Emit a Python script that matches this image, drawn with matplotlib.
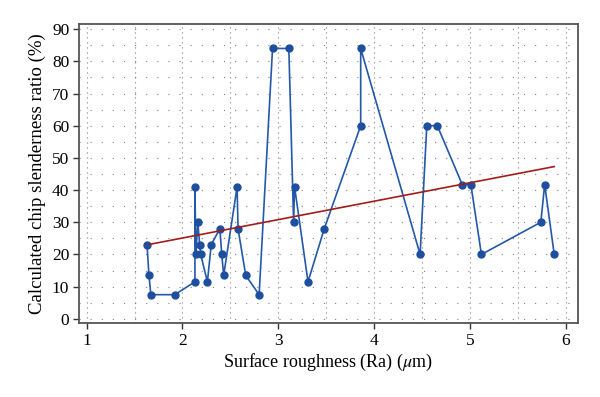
import matplotlib
matplotlib.use("Agg")
import matplotlib.pyplot as plt
import numpy as np

# Data (in drawing order)
ra = [1.63, 1.65, 1.67, 1.92, 2.13, 2.13, 2.14, 2.16, 2.18, 2.19, 2.26, 2.30,
      2.39, 2.41, 2.43, 2.57, 2.58, 2.66, 2.80, 2.94, 3.11, 3.16, 3.17, 3.31,
      3.48, 3.86, 3.86, 4.48, 4.55, 4.66, 4.92, 5.01, 5.12, 5.74, 5.78, 5.88]
ratio = [23.0, 13.5, 7.5, 7.5, 11.5, 41.0, 20.0, 30.0, 23.0, 20.0, 11.5, 23.0,
         28.0, 20.0, 13.5, 41.0, 28.0, 13.5, 7.5, 84.0, 84.0, 30.0, 41.0, 11.5,
         28.0, 60.0, 84.0, 20.0, 60.0, 60.0, 41.7, 41.7, 20.0, 30.0, 41.7, 20.0]

trend_x = [1.65, 5.88]
trend_y = [23.1, 47.3]

xticks = [1, 2, 3, 4, 5, 6]
yticks = [0, 10, 20, 30, 40, 50, 60, 70, 80, 90]

plt.rcParams['font.family'] = ['Liberation Serif', 'DejaVu Serif']
plt.rcParams['mathtext.fontset'] = 'stix'

fig = plt.figure(figsize=(6.0, 3.97), dpi=100)
ax = fig.add_axes([79 / 600, 1 - 323 / 397, (578 - 79) / 600, (323 - 24) / 397])

ax.plot(ra, ratio, color='#2458a8', lw=1.2, marker='o', markersize=5,
        markerfacecolor='#1d4f9e', markeredgecolor='#1d4f9e', zorder=3)
ax.plot(trend_x, trend_y, color='#a31c1c', lw=1.2, zorder=4)

ax.set_xlim(0.92, 6.128)
ax.set_ylim(-1.3, 91.6)
ax.set_xticks(xticks)
ax.set_yticks(yticks)
ax.set_xticks(np.arange(1.5, 6.01, 1.0), minor=True)
ax.set_yticks(np.arange(5, 91, 10), minor=True)
ax.tick_params(which='minor', length=0)
ax.tick_params(which='major', direction='out', length=4, width=1, color='#333333',
               labelsize=12.5, pad=3)

ax.grid(True, which='major', axis='x', color='#808080', lw=0.8, ls=(0, (1, 3.5)))
ax.grid(True, which='minor', axis='x', color='#808080', lw=0.8, ls=(0, (1, 3.5)))
ax.grid(True, which='both', axis='y', color='#808080', lw=0.8, ls=(0, (1, 9)))
ax.set_axisbelow(True)

for s in ax.spines.values():
    s.set_color('#555555')
    s.set_linewidth(1.3)

ax.set_xlabel(r'Surface roughness (Ra) ($\mu$m)', fontsize=13, labelpad=2)
ax.set_ylabel('Calculated chip slenderness ratio (%)', fontsize=13.5, labelpad=4)

fig.savefig('out.png', dpi=100)
